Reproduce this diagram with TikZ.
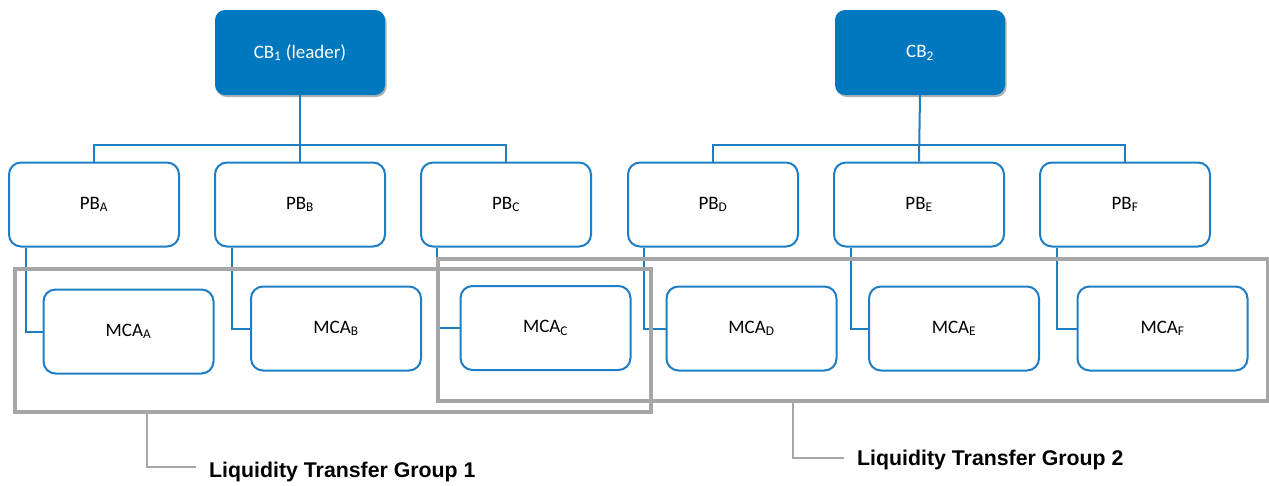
\documentclass[tikz,border=0pt]{standalone}
\usepackage{fontspec}
\setmainfont{Carlito}
\newfontfamily\lblfont{Liberation Sans}
\usetikzlibrary{shadows}
\definecolor{bl}{RGB}{30,125,195}
\definecolor{cbfill}{RGB}{0,120,192}
\definecolor{grp}{RGB}{166,166,166}
\begin{document}
\begin{tikzpicture}[x=1pt,y=-1pt,
  cbbox/.style={fill=cbfill, draw=none, text=white, rounded corners=10pt,
    minimum width=170pt, minimum height=85pt, inner sep=0pt,
    font=\fontsize{19}{22}\selectfont,
    drop shadow={shadow xshift=1.5pt, shadow yshift=-2pt, opacity=0.3, fill=black}},
  pbbox/.style={draw=bl, line width=2pt, fill=white, rounded corners=12pt,
    minimum width=170pt, minimum height=84pt, inner sep=0pt,
    font=\fontsize{19}{22}\selectfont},
  link/.style={draw=bl, line width=2pt},
  grpbox/.style={draw=grp, line width=3.5pt, inner sep=0pt},
  lblline/.style={draw=grp, line width=1.6pt},
  lbl/.style={font=\lblfont\bfseries\fontsize{21.3}{25}\selectfont, inner sep=0pt, anchor=base west}
]
\useasboundingbox (0,0) rectangle (1269,485);

% central banks
\node[cbbox] (CB1) at (300,52.5) {CB\textsubscript{1} (leader)};
\node[cbbox] (CB2) at (920,52.5) {CB\textsubscript{2}};

% payment banks
\node[pbbox] (PBA) at (94,204.5)   {PB\textsubscript{A}};
\node[pbbox] (PBB) at (300,204.5)  {PB\textsubscript{B}};
\node[pbbox] (PBC) at (506,204.5)  {PB\textsubscript{C}};
\node[pbbox] (PBD) at (713,204.5)  {PB\textsubscript{D}};
\node[pbbox] (PBE) at (919,204.5)  {PB\textsubscript{E}};
\node[pbbox] (PBF) at (1125,204.5) {PB\textsubscript{F}};

% main cash accounts
\node[pbbox] (MCAA) at (128.5,331.5) {MCA\textsubscript{A}};
\node[pbbox] (MCAB) at (336,328.5)   {MCA\textsubscript{B}};
\node[pbbox] (MCAC) at (545.5,328)   {MCA\textsubscript{C}};
\node[pbbox] (MCAD) at (751.5,328.5) {MCA\textsubscript{D}};
\node[pbbox] (MCAE) at (954,328.5)   {MCA\textsubscript{E}};
\node[pbbox] (MCAF) at (1162.5,328.5){MCA\textsubscript{F}};

% hierarchy connectors
\coordinate (bus1) at (300,145);
\coordinate (bus2) at (920,145);
\draw[link] (CB1.south) -- (PBB.north);
\draw[link] (PBA.north) |- (bus1) -| (PBC.north);
\draw[link] (CB2.south) -- (PBE.north);
\draw[link] (PBD.north) |- (bus2) -| (PBF.north);

\draw[link] ([xshift=18pt]PBA.south west) |- (MCAA.west);
\draw[link] ([xshift=18pt]PBB.south west) |- (MCAB.west);
\draw[link] ([xshift=17pt]PBC.south west) |- (MCAC.west);
\draw[link] ([xshift=17pt]PBD.south west) |- (MCAD.west);
\draw[link] ([xshift=18pt]PBE.south west) |- (MCAE.west);
\draw[link] ([xshift=18pt]PBF.south west) |- (MCAF.west);

% liquidity transfer groups
\node[grpbox, minimum width=636pt, minimum height=143pt] (G1) at (333,340.5) {};
\node[grpbox, minimum width=830pt, minimum height=142pt] (G2) at (853,330) {};

\node[lbl] (L1) at (209,477) {Liquidity Transfer Group 1};
\node[lbl] (L2) at (857,465) {Liquidity Transfer Group 2};

\coordinate (s1) at (147,412);
\coordinate (e1) at (196,467);
\coordinate (s2) at (793,401);
\coordinate (e2) at (844,458);
\draw[lblline] (s1) |- (e1);
\draw[lblline] (s2) |- (e2);
\end{tikzpicture}
\end{document}
